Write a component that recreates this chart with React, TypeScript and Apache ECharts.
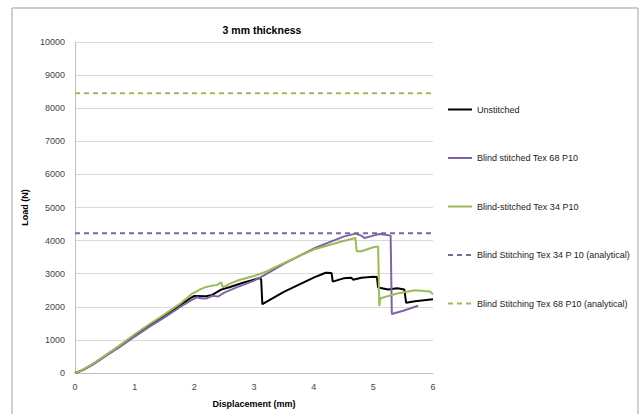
import React, { useEffect, useRef } from "react";
import * as echarts from "echarts";

// Load–displacement curves, [displacement (mm), load (N)]
const unstitched: [number, number][] = [
  [0, 0], [0.05, 30], [0.15, 110], [0.3, 270], [0.5, 510], [0.75, 820], [1.0, 1140],
  [1.25, 1450], [1.5, 1730], [1.75, 2030], [1.95, 2280], [2.0, 2330], [2.2, 2320],
  [2.3, 2360], [2.45, 2520], [2.6, 2600], [2.8, 2720], [3.0, 2820], [3.1, 2870],
  [3.12, 2820], [3.14, 2080], [3.5, 2450], [4.0, 2880], [4.2, 3030], [4.3, 3020],
  [4.32, 2760], [4.5, 2860], [4.63, 2880], [4.66, 2820], [4.8, 2880], [5.0, 2910],
  [5.06, 2900], [5.08, 2580], [5.25, 2520], [5.4, 2560], [5.52, 2520], [5.55, 2120],
  [5.7, 2170], [5.85, 2200], [6.0, 2230],
];

const tex68: [number, number][] = [
  [0, 0], [0.05, 25], [0.15, 100], [0.3, 255], [0.5, 490], [0.75, 790], [1.0, 1100],
  [1.25, 1400], [1.5, 1680], [1.75, 1980], [1.95, 2200], [2.05, 2290], [2.1, 2260],
  [2.2, 2250], [2.3, 2330], [2.4, 2310], [2.5, 2430], [2.7, 2580], [3.0, 2790],
  [3.1, 2880], [3.5, 3300], [4.0, 3760], [4.5, 4120], [4.7, 4210], [4.8, 4150],
  [4.85, 4080], [5.0, 4150], [5.1, 4200], [5.2, 4180], [5.29, 4150], [5.31, 1780],
  [5.5, 1880], [5.75, 2030],
];

const tex34: [number, number][] = [
  [0, 0], [0.05, 30], [0.15, 115], [0.3, 280], [0.5, 520], [0.75, 840], [1.0, 1170],
  [1.25, 1480], [1.5, 1770], [1.75, 2080], [1.95, 2380], [2.1, 2530], [2.2, 2600],
  [2.3, 2640], [2.38, 2660], [2.45, 2740], [2.48, 2590], [2.6, 2700], [2.75, 2810],
  [3.0, 2930], [3.2, 3060], [3.5, 3320], [4.0, 3730], [4.5, 3990], [4.7, 4080],
  [4.72, 3680], [4.8, 3680], [5.0, 3800], [5.08, 3820], [5.1, 2020], [5.12, 2260],
  [5.4, 2400], [5.7, 2500], [5.85, 2480], [5.95, 2460], [6.0, 2380],
];

// Analytical predictions (constant loads)
const analyticalTex34: [number, number][] = [[0, 4220], [6, 4220]];
const analyticalTex68: [number, number][] = [[0, 8450], [6, 8450]];

const seriesNames = [
  "Unstitched",
  "Blind stitched Tex 68 P10",
  "Blind-stitched Tex 34 P10",
  "Blind Stitching Tex 34 P 10 (analytical)",
  "Blind Stitching Tex 68 P10 (analytical)",
];

const FONT = "'Liberation Sans', sans-serif";
const PURPLE = "#8064a2";
const GREEN = "#9bbb59";
const FRAME = { stroke: "#bcbcbc", lineWidth: 1.4 };

export default function App() {
  const ref = useRef<HTMLDivElement>(null);

  useEffect(() => {
    if (!ref.current) return;
    const chart = echarts.init(ref.current, undefined, { renderer: "svg" });

    const line = (name: string, data: [number, number][], color: string, dashed = false) => ({
      name,
      type: "line",
      data,
      symbol: "none",
      showSymbol: false,
      lineStyle: { color, width: 2, type: dashed ? [5, 4] : "solid" },
      itemStyle: { color },
      z: dashed ? 1 : 2,
    });

    chart.setOption({
      animation: false,
      backgroundColor: "#ffffff",
      title: {
        text: "3 mm thickness",
        left: 257,
        top: 19,
        textAlign: "center",
        textStyle: { fontFamily: FONT, fontSize: 10.5, fontWeight: "bold", color: "#000" },
      },
      graphic: [
        // chart frame edges
        { type: "line", shape: { x1: 12, y1: 8, x2: 12, y2: 414 }, style: FRAME, silent: true, z: 100 },
        { type: "line", shape: { x1: 12, y1: 8, x2: 638, y2: 8 }, style: FRAME, silent: true, z: 100 },
        { type: "line", shape: { x1: 638, y1: 8, x2: 638, y2: 414 }, style: FRAME, silent: true, z: 100 },
      ],
      grid: { left: 75, right: 209, top: 42, bottom: 41 },
      legend: {
        orient: "vertical",
        left: 447,
        top: 105,
        padding: 0,
        itemWidth: 24,
        itemHeight: 8,
        itemGap: 39.5,
        data: seriesNames,
        itemStyle: { opacity: 0 },
        textStyle: { fontFamily: FONT, fontSize: 9, color: "#222" },
      },
      xAxis: {
        type: "value",
        min: 0,
        max: 6,
        interval: 1,
        name: "Displacement (mm)",
        nameLocation: "middle",
        nameGap: 26,
        nameTextStyle: { fontFamily: FONT, fontSize: 9, fontWeight: "bold", color: "#000" },
        axisLine: { show: true, lineStyle: { color: "#bfbfbf" } },
        axisTick: { show: false },
        axisLabel: { fontFamily: FONT, fontSize: 9, color: "#444", margin: 9 },
        splitLine: { show: false },
      },
      yAxis: {
        type: "value",
        min: 0,
        max: 10000,
        interval: 1000,
        name: "Load (N)",
        nameLocation: "middle",
        nameGap: 38,
        nameTextStyle: { fontFamily: FONT, fontSize: 9, fontWeight: "bold", color: "#000" },
        axisLine: { show: true, lineStyle: { color: "#bfbfbf" } },
        axisTick: { show: false },
        axisLabel: {
          fontFamily: FONT,
          fontSize: 9,
          color: "#444",
          margin: 10,
          formatter: (v: number) => String(v),
        },
        splitLine: { show: true, lineStyle: { color: "#d9d9d9" } },
      },
      series: [
        line(seriesNames[3], analyticalTex34, PURPLE, true),
        line(seriesNames[4], analyticalTex68, GREEN, true),
        line(seriesNames[0], unstitched, "#000000"),
        line(seriesNames[1], tex68, PURPLE),
        line(seriesNames[2], tex34, GREEN),
      ],
    });

    return () => chart.dispose();
  }, []);

  return (
    <div
      ref={ref}
      style={{ position: "fixed", left: 0, top: 0, width: 642, height: 414 }}
    />
  );
}
